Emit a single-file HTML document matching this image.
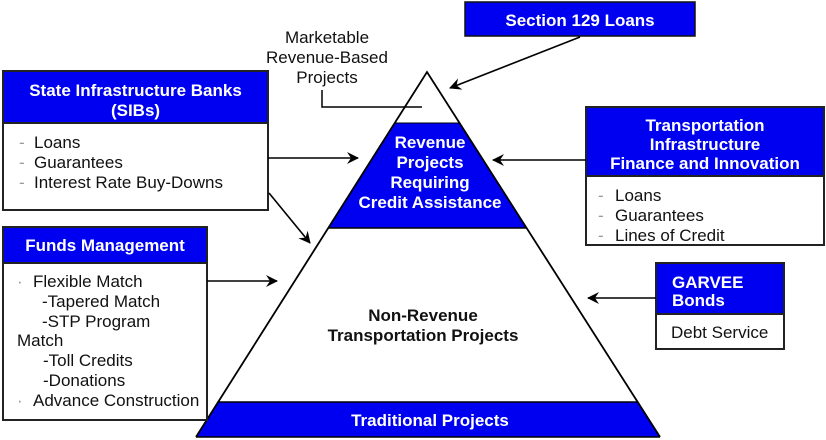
<!DOCTYPE html>
<html>
<head>
<meta charset="utf-8">
<style>
  html, body { margin:0; padding:0; background:#fff; }
  svg { display:block; }
  text { font-family: "Liberation Sans", Arial, sans-serif; font-size:17px; }
  .hb { font-weight:bold; fill:#fff; }
  .bk { fill:#111; }
  .bd { font-weight:bold; fill:#111; }
  .ds { fill:#999; }
</style>
</head>
<body>
<svg width="826" height="440" viewBox="0 0 826 440" xmlns="http://www.w3.org/2000/svg">
  <defs>
    <marker id="ah" viewBox="0 0 12 12" refX="11" refY="6" markerWidth="12" markerHeight="12" markerUnits="userSpaceOnUse" orient="auto">
      <path d="M0,0 L12,6 L0,12 L4,6 z" fill="#000"/>
    </marker>
  </defs>

  <!-- Pyramid -->
  <polygon points="394.7,123 459.5,123 526.5,228 328.3,228" fill="#0000f0"/>
  <polygon points="218.1,402 637.5,402 660,437 196,437" fill="#0000f0"/>
  <line x1="328.3" y1="228" x2="526.5" y2="228" stroke="#000" stroke-width="1.5"/>
  <line x1="218.1" y1="402" x2="637.5" y2="402" stroke="#000" stroke-width="1.5"/>
  <line x1="394.7" y1="123" x2="459.5" y2="123" stroke="#000" stroke-width="1"/>
  <line x1="196" y1="437" x2="660" y2="437" stroke="#000" stroke-width="1.5"/>
  <polyline points="196,437 427,72 660,437" fill="none" stroke="#000" stroke-width="1.8"/>

  <text class="hb" x="430" y="148" text-anchor="middle">Revenue</text>
  <text class="hb" x="430" y="168" text-anchor="middle">Projects</text>
  <text class="hb" x="430" y="188" text-anchor="middle">Requiring</text>
  <text class="hb" x="430" y="208" text-anchor="middle">Credit Assistance</text>

  <text class="bd" x="423" y="321" text-anchor="middle">Non-Revenue</text>
  <text class="bd" x="423" y="341" text-anchor="middle">Transportation Projects</text>

  <text class="hb" x="430" y="426" text-anchor="middle">Traditional Projects</text>

  <!-- Marketable label -->
  <text class="bk" x="327" y="43" text-anchor="middle">Marketable</text>
  <text class="bk" x="327" y="63" text-anchor="middle">Revenue-Based</text>
  <text class="bk" x="327" y="83" text-anchor="middle">Projects</text>
  <polyline points="322,90 322,107 422,107" fill="none" stroke="#000" stroke-width="1.5"/>

  <!-- Section 129 -->
  <rect x="465" y="2" width="230" height="34" fill="#0000f0" stroke="#111" stroke-width="1.5"/>
  <text class="hb" x="580" y="26" text-anchor="middle">Section 129 Loans</text>

  <!-- SIBs -->
  <rect x="3" y="71" width="265" height="139" fill="#fff" stroke="#222" stroke-width="2"/>
  <rect x="3" y="71" width="265" height="52" fill="#0000f0" stroke="#222" stroke-width="2"/>
  <text class="hb" x="135.5" y="96" text-anchor="middle">State Infrastructure Banks</text>
  <text class="hb" x="135.5" y="116" text-anchor="middle">(SIBs)</text>
  <text class="ds" x="19" y="148">-</text>
  <text class="ds" x="19" y="168">-</text>
  <text class="ds" x="19" y="188">-</text>
  <text class="bk" x="34" y="148">Loans</text>
  <text class="bk" x="34" y="168">Guarantees</text>
  <text class="bk" x="34" y="188">Interest Rate Buy-Downs</text>

  <!-- Funds Management -->
  <rect x="3" y="227" width="204" height="193" fill="#fff" stroke="#222" stroke-width="2"/>
  <rect x="3" y="227" width="204" height="36" fill="#0000f0" stroke="#222" stroke-width="2"/>
  <text class="hb" x="105" y="251" text-anchor="middle">Funds Management</text>
  <text class="ds" x="17" y="287">·</text>
  <text class="bk" x="33" y="287">Flexible Match</text>
  <text class="bk" x="42" y="307">-Tapered Match</text>
  <text class="bk" x="42" y="327">-STP Program</text>
  <text class="bk" x="17" y="346">Match</text>
  <text class="bk" x="43" y="366">-Toll Credits</text>
  <text class="bk" x="43" y="386">-Donations</text>
  <text class="ds" x="17" y="406">·</text>
  <text class="bk" x="33" y="406">Advance Construction</text>

  <!-- TIFIA -->
  <rect x="586" y="107" width="238" height="138" fill="#fff" stroke="#222" stroke-width="2"/>
  <rect x="586" y="107" width="238" height="69" fill="#0000f0" stroke="#222" stroke-width="2"/>
  <text class="hb" x="705" y="131" text-anchor="middle">Transportation</text>
  <text class="hb" x="705" y="150" text-anchor="middle">Infrastructure</text>
  <text class="hb" x="705" y="169" text-anchor="middle">Finance and Innovation</text>
  <text class="ds" x="598" y="201">-</text>
  <text class="ds" x="598" y="221">-</text>
  <text class="ds" x="598" y="241">-</text>
  <text class="bk" x="615" y="201">Loans</text>
  <text class="bk" x="615" y="221">Guarantees</text>
  <text class="bk" x="615" y="241">Lines of Credit</text>

  <!-- GARVEE -->
  <rect x="656" y="263" width="128" height="86" fill="#fff" stroke="#222" stroke-width="2"/>
  <rect x="656" y="263" width="128" height="51" fill="#0000f0" stroke="#222" stroke-width="2"/>
  <text class="hb" x="672" y="288">GARVEE</text>
  <text class="hb" x="672" y="306">Bonds</text>
  <text class="bk" x="671" y="338">Debt Service</text>

  <!-- Arrows -->
  <g stroke="#000" stroke-width="1.6" fill="none" marker-end="url(#ah)">
    <line x1="268" y1="158" x2="358" y2="158"/>
    <line x1="269" y1="193" x2="310" y2="243"/>
    <line x1="580" y1="37" x2="450" y2="88"/>
    <line x1="586" y1="160" x2="493" y2="160"/>
    <line x1="207" y1="281" x2="277" y2="281"/>
    <line x1="656" y1="298" x2="588" y2="298"/>
  </g>
</svg>
</body>
</html>
